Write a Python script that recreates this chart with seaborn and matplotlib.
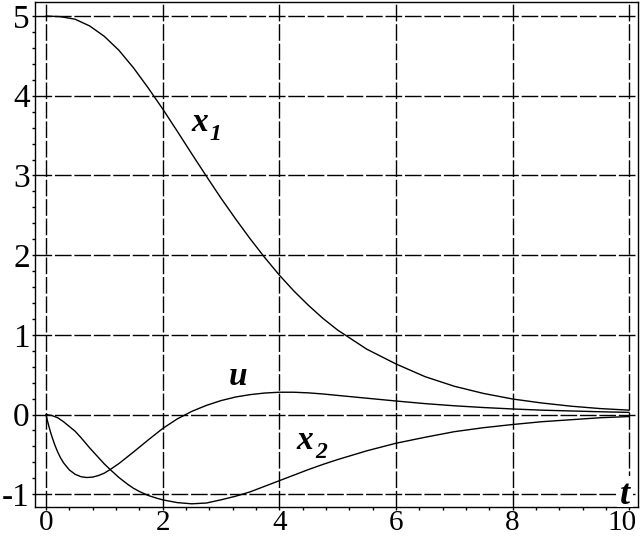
import matplotlib
matplotlib.use("Agg")
import numpy as np
import pandas as pd
import seaborn as sns
import matplotlib.pyplot as plt
from matplotlib.ticker import MultipleLocator
import matplotlib.transforms as mtransforms

# ---- data ----
t_x1 = [0, 0.25, 0.5, 0.75, 1.0, 1.25, 1.5, 1.75, 2.0, 2.25, 2.5, 2.75, 3.0, 3.25,
        3.5, 3.75, 4.0, 4.25, 4.5, 4.75, 5.0, 5.5, 6.0, 6.5, 7.0, 7.5, 8.0, 8.5, 9.0, 9.5, 10.0]
x1 = [5.0, 4.992, 4.96, 4.875, 4.745, 4.57, 4.35, 4.1, 3.835, 3.555, 3.27, 2.99, 2.715, 2.455,
      2.205, 1.97, 1.75, 1.55, 1.37, 1.205, 1.06, 0.82, 0.635, 0.475, 0.355, 0.265, 0.195,
      0.145, 0.105, 0.075, 0.055]

t_x2 = [0, 0.1, 0.2, 0.3, 0.4, 0.5, 0.6, 0.75, 0.9, 1.0, 1.1, 1.25, 1.4, 1.5, 1.6, 1.75,
        1.9, 2.0, 2.25, 2.5, 2.75, 3.0, 3.25, 3.5, 3.75, 4.0, 4.25, 4.5, 4.75, 5.0, 5.5,
        6.0, 6.5, 7.0, 7.5, 8.0, 8.5, 9.0, 9.5, 10.0]
x2 = [0, -0.012, -0.04, -0.09, -0.15, -0.21, -0.29, -0.42, -0.54, -0.62, -0.69, -0.79,
      -0.875, -0.925, -0.965, -1.015, -1.05, -1.07, -1.105, -1.12, -1.11, -1.07, -1.025,
      -0.97, -0.9, -0.83, -0.76, -0.69, -0.625, -0.565, -0.455, -0.36, -0.285, -0.215,
      -0.165, -0.125, -0.09, -0.065, -0.04, -0.025]

t_u = [0, 0.025, 0.05, 0.075, 0.1, 0.15, 0.2, 0.25, 0.3, 0.4, 0.5, 0.6, 0.7, 0.8, 0.9,
       1.0, 1.1, 1.25, 1.5, 1.75, 2.0, 2.25, 2.5, 2.75, 3.0, 3.25, 3.5, 3.75, 4.0, 4.25,
       4.5, 4.75, 5.0, 5.5, 6.0, 6.5, 7.0, 7.5, 8.0, 8.5, 9.0, 9.5, 10.0]
u = [0, -0.08, -0.15, -0.215, -0.275, -0.38, -0.47, -0.545, -0.605, -0.695, -0.75, -0.78,
     -0.79, -0.785, -0.765, -0.735, -0.69, -0.615, -0.47, -0.32, -0.175, -0.055, 0.04,
     0.115, 0.175, 0.22, 0.25, 0.27, 0.28, 0.28, 0.272, 0.258, 0.24, 0.205, 0.17, 0.137,
     0.11, 0.088, 0.07, 0.055, 0.045, 0.035, 0.027]

x_ticks = [0, 2, 4, 6, 8, 10]
x_tick_labels = ["0", "2", "4", "6", "8", "10"]
y_ticks = [-1, 0, 1, 2, 3, 4, 5]
y_tick_labels = ["-1", "0", "1", "2", "3", "4", "5"]

df = pd.concat([
    pd.DataFrame({"t": t_x1, "value": x1, "series": "x1"}),
    pd.DataFrame({"t": t_x2, "value": x2, "series": "x2"}),
    pd.DataFrame({"t": t_u, "value": u, "series": "u"}),
], ignore_index=True)

sns.set_style("ticks")
plt.rcParams["font.family"] = ["Liberation Serif", "DejaVu Serif"]

fig = plt.figure(figsize=(6.41, 5.43), dpi=100)
ax = fig.add_axes([35 / 641, 1 - 507 / 543, (638 - 35) / 641, (507 - 1.7) / 543])

sns.lineplot(data=df, x="t", y="value", hue="series",
             palette={"x1": "black", "x2": "black", "u": "black"},
             legend=False, linewidth=1.0, ax=ax, sort=False)

ax.set_xlim(-0.189, 10.15)
ax.set_ylim(-1.16, 5.18)
ax.set_xlabel("")
ax.set_ylabel("")

ax.set_xticks(x_ticks)
ax.set_xticklabels(x_tick_labels)
ax.set_yticks(y_ticks)
ax.set_yticklabels(y_tick_labels)
ax.xaxis.set_minor_locator(MultipleLocator(0.4))
ax.yaxis.set_minor_locator(MultipleLocator(0.2))
ax.tick_params(which="both", direction="out", length=2.2, width=1, color="black",
               top=False, right=False)
ax.tick_params(axis="y", which="major", labelsize=24, labelcolor="black", pad=1.5)
ax.tick_params(axis="x", which="major", labelsize=21, labelcolor="black", pad=0)

# shift last x label left so it fits in the figure
lbls = ax.get_xticklabels()
lbls[-1].set_transform(lbls[-1].get_transform() +
                       mtransforms.ScaledTranslation(-7 / 100, 0, fig.dpi_scale_trans))

ax.grid(True, which="major", color="black", linewidth=1.0, linestyle=(0, (12, 2)))
for s in ax.spines.values():
    s.set_color("black")
    s.set_linewidth(1.0)

lab = dict(fontfamily="Liberation Serif", fontstyle="italic", fontweight="bold",
           color="black", va="baseline", ha="left")
ax.text(2.50, 3.56, "x", fontsize=24, **lab)
ax.text(2.81, 3.45, "1", fontsize=17, **lab)
ax.text(3.125, 0.376, "u", fontsize=24, **lab)
ax.text(4.286, -0.435, "x", fontsize=24, **lab)
ax.text(4.61, -0.54, "2", fontsize=17, **lab)
ax.text(9.84, -1.12, "t", fontsize=26, zorder=5, clip_on=True,
        bbox=dict(facecolor="white", edgecolor="none", pad=2), **lab)

fig.savefig("out.png", dpi=100)
